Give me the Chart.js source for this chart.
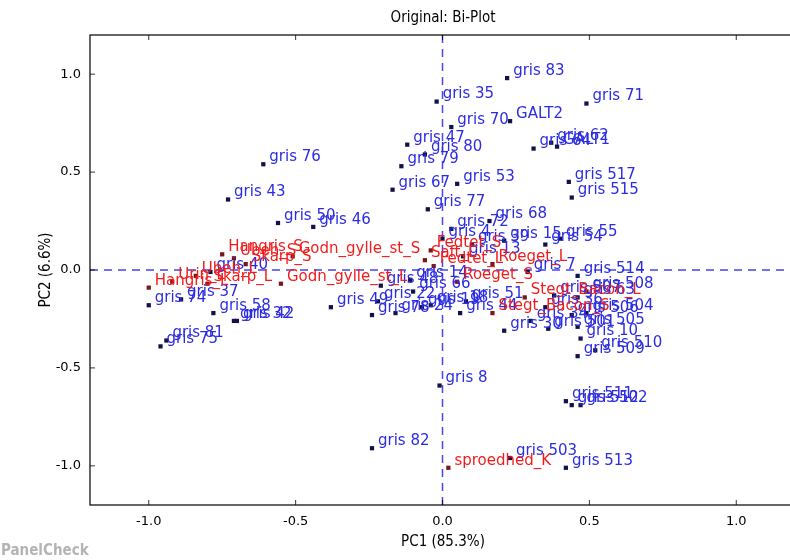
<!DOCTYPE html>
<html>
<head>
<meta charset="utf-8">
<script src="https://cdn.jsdelivr.net/npm/chart.js@4.4.1/dist/chart.umd.min.js"></script>
<style>
html, body { margin: 0; padding: 0; overflow: hidden; background: #fff; }
</style>
</head>
<body>
<canvas id="biplot" width="800" height="560"></canvas>
<script>
// assessors / samples (blue)
const sampleNames = ['gris 83', 'gris 35', 'gris 71', 'gris 70', 'GALT2', 'gris 47', 'gris 80', 'gris 79',
  'gris 64', 'gris 62', 'GALT1', 'gris 517', 'gris 515', 'gris 53', 'gris 67', 'gris 77', 'gris 76',
  'gris 43', 'gris 50', 'gris 46', 'gris 68', 'gris 72', 'gris 4', 'gris 39', 'gris 13', 'gris 15',
  'gris 55', 'gris 54', 'gris 7', 'gris 514', 'gris 508', 'gris 63', 'gris 507', 'gris 504', 'gris 506',
  'gris 36', 'gris 501', 'gris 34', 'gris 30', 'gris 505', 'gris 10', 'gris 510', 'gris 509', 'gris 511',
  'gris 512', 'gris 502', 'gris 503', 'gris 513', 'gris 8', 'gris 82', 'gris 66', 'gris 18', 'gris 51',
  'gris 44', 'gris 49', 'gris 22', 'gris 24', 'gris 78', 'gris 19', 'gris 14', 'gris 48', 'gris 37',
  'gris 74', 'gris 40', 'gris 58', 'gris 32', 'gris 42', 'gris 81', 'gris 75'];
const sampleX = [0.22, -0.02, 0.49, 0.03, 0.23, -0.12, -0.06, -0.14,
  0.31, 0.37, 0.39, 0.43, 0.44, 0.05, -0.17, -0.05, -0.61,
  -0.73, -0.56, -0.44, 0.16, 0.03, 0.0, 0.10, 0.07, 0.21,
  0.40, 0.35, 0.29, 0.46, 0.49, 0.46, 0.38, 0.49, 0.44,
  0.35, 0.36, 0.30, 0.21, 0.46, 0.47, 0.52, 0.46, 0.42,
  0.44, 0.47, 0.23, 0.42, -0.01, -0.24, -0.10, -0.04, 0.08,
  0.06, -0.38, -0.22, -0.16, -0.24, -0.07, -0.11, -0.21, -0.89,
  -1.0, -0.79, -0.78, -0.71, -0.70, -0.94, -0.96];
const sampleY = [0.98, 0.86, 0.85, 0.73, 0.76, 0.64, 0.59, 0.53,
  0.62, 0.65, 0.63, 0.45, 0.37, 0.44, 0.41, 0.31, 0.54,
  0.36, 0.24, 0.22, 0.25, 0.21, 0.16, 0.13, 0.07, 0.15,
  0.16, 0.13, -0.01, -0.03, -0.11, -0.14, -0.13, -0.22, -0.23,
  -0.19, -0.30, -0.26, -0.31, -0.29, -0.35, -0.41, -0.44, -0.67,
  -0.69, -0.69, -0.96, -1.01, -0.59, -0.91, -0.11, -0.18, -0.16,
  -0.22, -0.19, -0.16, -0.22, -0.23, -0.19, -0.05, -0.08, -0.15,
  -0.18, -0.01, -0.22, -0.26, -0.26, -0.36, -0.39];

// attributes (red)
const attrNames = ['Hangris_S', 'Ubeh_S', 'Skarp_S', 'Godn_gylle_st_S', 'Urin_L', 'Hangris_L', 'Ubeh_L',
  'Skarp_L', 'Godn_gylle_st_L', 'Fedtet_S', 'Fedtet_L', 'Saft_L', 'Roeget_L', 'Roeget_S',
  'Stegt_Bacon_L', 'Stegt_Bacon_S', 'sproedhed_K'];
const attrX = [-0.75, -0.71, -0.67, -0.51, -0.92, -1.0, -0.84, -0.80, -0.55, -0.04, -0.03, -0.06, 0.17, 0.05,
  0.28, 0.17, 0.02];
const attrY = [0.08, 0.06, 0.03, 0.07, -0.06, -0.09, -0.03, -0.07, -0.07, 0.10, 0.02, 0.05, 0.03, -0.06,
  -0.14, -0.22, -1.01];

const xTicks = [-1.0, -0.5, 0.0, 0.5, 1.0];
const yTicks = [-1.0, -0.5, 0.0, 0.5, 1.0];

const narrow = '"Liberation Sans Narrow", "DejaVu Sans Condensed", sans-serif';
const labelFont = '15px "DejaVu Sans", sans-serif';

function pts(xs, ys) {
  return xs.map((x, i) => ({ x: x, y: ys[i] }));
}

// zero lines, frame, inward ticks, point labels, titles
const biplotDecor = {
  id: 'biplotDecor',
  beforeDatasetsDraw(chart) {
    const c = chart.ctx, a = chart.chartArea;
    const xs = chart.scales.x, ys = chart.scales.y;
    c.save();
    c.strokeStyle = '#4646ee';
    c.lineWidth = 1.5;
    c.setLineDash([8, 6]);
    const x0 = xs.getPixelForValue(0), y0 = ys.getPixelForValue(0);
    c.beginPath();
    c.moveTo(x0, a.top); c.lineTo(x0, a.bottom);
    c.moveTo(a.left, y0); c.lineTo(a.right, y0);
    c.stroke();
    c.restore();
  },
  afterDatasetsDraw(chart) {
    const c = chart.ctx, a = chart.chartArea;
    const xs = chart.scales.x, ys = chart.scales.y;
    c.save();
    c.font = labelFont;
    c.textBaseline = 'middle';
    c.textAlign = 'left';
    chart.data.datasets.forEach((ds, di) => {
      const meta = chart.getDatasetMeta(di);
      c.fillStyle = ds.labelColor;
      meta.data.forEach((p, i) => {
        c.fillText(ds.names[i], p.x + 6, p.y - 7);
      });
    });
    // frame
    c.strokeStyle = '#000';
    c.lineWidth = 1.2;
    c.setLineDash([]);
    c.strokeRect(a.left, a.top, a.right - a.left, a.bottom - a.top);
    c.beginPath();
    xTicks.forEach(v => {
      const px = xs.getPixelForValue(v);
      c.moveTo(px, a.bottom); c.lineTo(px, a.bottom - 5);
      c.moveTo(px, a.top); c.lineTo(px, a.top + 5);
    });
    yTicks.forEach(v => {
      const py = ys.getPixelForValue(v);
      c.moveTo(a.left, py); c.lineTo(a.left + 5, py);
      c.moveTo(a.right, py); c.lineTo(a.right - 5, py);
    });
    c.lineWidth = 0.8;
    c.stroke();
    // titles
    c.fillStyle = '#000';
    c.textAlign = 'center';
    c.font = '15px ' + narrow;
    c.fillText('Original: Bi-Plot', 443, 18);
    c.fillText('PC1 (85.3%)', 443, 542);
    c.save();
    c.translate(46, 270);
    c.rotate(-Math.PI / 2);
    c.fillText('PC2 (6.6%)', 0, 0);
    c.restore();
    c.textAlign = 'left';
    c.fillStyle = '#b4b4b4';
    c.font = 'bold 15px ' + narrow;
    c.fillText('PanelCheck', 1, 551);
    c.restore();
  }
};

const ctx = document.getElementById('biplot');
const chart = new Chart(ctx, {
  type: 'scatter',
  data: {
    datasets: [
      {
        names: sampleNames,
        labelColor: '#2c2ce2',
        data: pts(sampleX, sampleY),
        pointStyle: 'rect',
        pointRadius: 3,
        backgroundColor: '#12124a',
        borderColor: '#12124a',
        borderWidth: 0
      },
      {
        names: attrNames,
        labelColor: '#f21c1c',
        data: pts(attrX, attrY),
        pointStyle: 'rect',
        pointRadius: 3,
        backgroundColor: '#7a1818',
        borderColor: '#7a1818',
        borderWidth: 0
      }
    ]
  },
  options: {
    responsive: false,
    animation: false,
    layout: { padding: { top: 35, right: 5, left: 0, bottom: 0 } },
    plugins: {
      legend: { display: false },
      tooltip: { enabled: false },
      title: { display: false }
    },
    scales: {
      x: {
        type: 'linear',
        min: -1.2,
        max: 1.2,
        afterBuildTicks: s => { s.ticks = xTicks.map(v => ({ value: v })); },
        afterFit: s => { s.height = 55; },
        grid: { display: false, drawTicks: false },
        border: { display: false },
        ticks: {
          padding: 9,
          color: '#000',
          font: { family: 'DejaVu Sans', size: 13 },
          callback: v => v.toFixed(1)
        }
      },
      y: {
        type: 'linear',
        min: -1.2,
        max: 1.2,
        afterBuildTicks: s => { s.ticks = yTicks.map(v => ({ value: v })); },
        afterFit: s => { s.width = 90; },
        grid: { display: false, drawTicks: false },
        border: { display: false },
        ticks: {
          padding: 9,
          color: '#000',
          font: { family: 'DejaVu Sans', size: 13 },
          callback: v => v.toFixed(1)
        }
      }
    }
  },
  plugins: [biplotDecor]
});
</script>
</body>
</html>
